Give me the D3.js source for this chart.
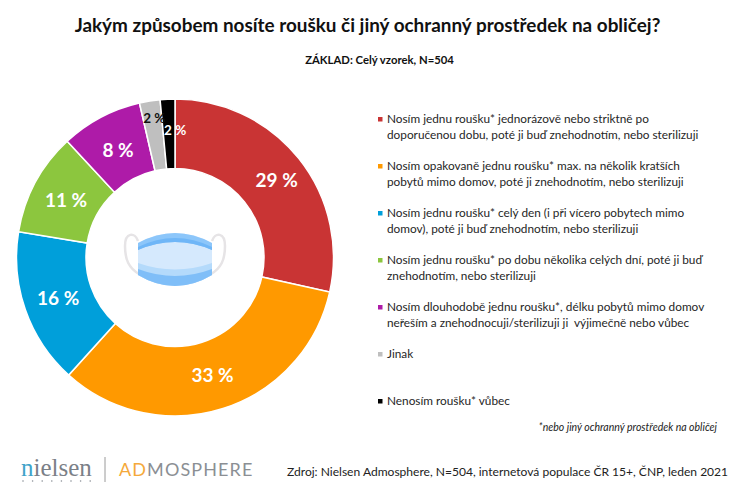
<!DOCTYPE html>
<html>
<head>
<meta charset="utf-8">
<script src="https://d3js.org/d3.v7.min.js"></script>
<style>
html, body { margin: 0; padding: 0; background: #fff; }
text { font-family: Lato, "Open Sans", sans-serif; }
</style>
</head>
<body>
<div id="chart"></div>
<script>
var categories = [
    ["Nosím jednu roušku* jednorázově nebo striktně po", "doporučenou dobu, poté ji buď znehodnotím, nebo sterilizuji"],
    ["Nosím opakovaně jednu roušku* max. na několik kratších", "pobytů mimo domov, poté ji znehodnotím, nebo sterilizuji"],
    ["Nosím jednu roušku* celý den (i při vícero pobytech mimo", "domov), poté ji buď znehodnotím, nebo sterilizuji"],
    ["Nosím jednu roušku* po dobu několika celých dní, poté ji buď", "znehodnotím, nebo sterilizuji"],
    ["Nosím dlouhodobě jednu roušku*, délku pobytů mimo domov", "neřeším a znehodnocuji/sterilizuji ji  výjimečně nebo vůbec"],
    ["Jinak"],
    ["Nenosím roušku* vůbec"]
];
// slice sizes as measured on the ring, the labels show them rounded
var values = [28.5, 33.2, 15.9, 10.5, 8.3, 2.1, 1.5];
var labels = ["29 %", "33 %", "16 %", "11 %", "8 %", "2 %", "2 %"];
var colors = ["#c93434", "#ff9900", "#009fda", "#8cc63e", "#ae1ba8", "#bfbfbf", "#000000"];
var labelColors = ["#fff", "#fff", "#fff", "#fff", "#fff", "#111", "#fff"];

var width = 740, height = 487;
var cx = 175, cy = 257.5, outer = 158.5, inner = 89;
// the small labels were pushed around by hand in the original
var labelNudge = [[5, 0], [0, 0], [0, 0], [0, 1], [1, 2], [-1, -17], [6, -4]];

var svg = d3.select("#chart").append("svg")
    .attr("width", width)
    .attr("height", height)
    .style("display", "block");

function drawText(x, y, str, size, weight, anchor, style, color) {
    return svg.append("text")
        .attr("x", x)
        .attr("y", y)
        .attr("text-anchor", anchor || "start")
        .attr("font-size", size)
        .attr("font-weight", weight || "normal")
        .attr("font-style", style || "normal")
        .attr("fill", color || "#222")
        .attr("xml:space", "preserve")
        .text(str);
}

drawText(367.5, 32, "Jakým způsobem nosíte roušku či jiný ochranný prostředek na obličej?", 18.9, "bold", "middle", null, "#111");
drawText(379.5, 64, "ZÁKLAD: Celý vzorek, N=504", 11.3, "bold", "middle", null, "#111");

// donut
var pie = d3.pie().sort(null);
var arc = d3.arc().innerRadius(inner).outerRadius(outer);
var arcs = pie(values);
var donut = svg.append("g").attr("transform", "translate(" + cx + "," + cy + ")");

donut.selectAll("path")
    .data(arcs)
    .enter()
    .append("path")
    .attr("d", arc)
    .attr("fill", function (d, i) { return colors[i]; })
    .attr("stroke", "#fff")
    .attr("stroke-width", 1.5);

donut.selectAll("text")
    .data(arcs)
    .enter()
    .append("text")
    .attr("transform", function (d, i) {
        var c = arc.centroid(d);
        return "translate(" + (c[0] + labelNudge[i][0]) + "," + (c[1] + labelNudge[i][1]) + ")";
    })
    .attr("dy", "0.36em")
    .attr("text-anchor", "middle")
    .attr("font-size", function (d, i) { return i > 4 ? 13.5 : 19; })
    .attr("font-weight", "bold")
    .attr("fill", function (d, i) { return labelColors[i]; })
    .text(function (d, i) { return labels[i]; });

// mask icon in the hole
var mask = svg.append("g").attr("transform", "translate(" + cx + "," + (cy + 0.5) + ")");
mask.selectAll("path.loop")
    .data([-1, 1])
    .enter()
    .append("path")
    .attr("class", "loop")
    .attr("d", function (s) {
        return "M" + s * 37 + ",-17 C" + s * 40 + ",-26 " + s * 50 + ",-26 " + s * 50 + ",-12 C" + s * 50 + ",2 " + s * 46 + ",10 " + s * 36 + ",16";
    })
    .attr("fill", "none")
    .attr("stroke", "#e6e4e6")
    .attr("stroke-width", 2.5);
mask.append("path")
    .attr("d", "M-37,-15 Q0,-35 37,-15 L37,17 Q0,39 -37,17 Z")
    .attr("fill", "#d5e9fd");
mask.append("path")
    .attr("d", "M-37,-15 Q0,-35 37,-15 L37,-8 Q0,-24 -37,-8 Z")
    .attr("fill", "#8cc6fa");
mask.append("path")
    .attr("d", "M-37,-11 Q0,-29 37,-11 L37,-8 Q0,-24 -37,-8 Z")
    .attr("fill", "#6fb6f7");
mask.append("path")
    .attr("d", "M-37,5 Q0,18 37,5 L37,17 Q0,39 -37,17 Z")
    .attr("fill", "#b4dafb");
mask.append("path")
    .attr("d", "M-37,11 Q0,25 37,11 L37,17 Q0,39 -37,17 Z")
    .attr("fill", "#7fbef8");

// legend
var legendY = d3.scalePoint()
    .domain(d3.range(categories.length))
    .range([119, 401]);

var legend = svg.selectAll("g.legend")
    .data(categories)
    .enter()
    .append("g")
    .attr("class", "legend")
    .attr("transform", function (d, i) { return "translate(378," + legendY(i) + ")"; });

legend.append("rect")
    .attr("x", 0)
    .attr("y", -2)
    .attr("width", 4.5)
    .attr("height", 4.5)
    .attr("fill", function (d, i) { return colors[i]; });

legend.selectAll("text")
    .data(function (d) { return d; })
    .enter()
    .append("text")
    .attr("x", 9)
    .attr("y", function (d, i) { return i * 16 + 4; })
    .attr("font-size", 11.8)
    .attr("fill", "#262626")
    .attr("xml:space", "preserve")
    .text(function (d) { return d; });

drawText(717, 431, "*nebo jiný ochranný prostředek na obličej", 10.5, "normal", "end", "italic", "#222");

// logos
var nielsen = drawText(21, 476, "", 25, "normal", "start", null, "#7b8087").style("font-family", "'Liberation Serif', serif");
nielsen.append("tspan").attr("fill", "#3fa3c9").text("n");
nielsen.append("tspan").text("ielsen");
svg.selectAll("circle.dot")
    .data(d3.range(8))
    .enter()
    .append("circle")
    .attr("class", "dot")
    .attr("cx", function (d) { return 23 + d * 9.6; })
    .attr("cy", 481)
    .attr("r", 0.8)
    .attr("fill", "#8a8f96");
svg.append("line")
    .attr("x1", 105).attr("x2", 105)
    .attr("y1", 457).attr("y2", 482)
    .attr("stroke", "#9a9a9a");
var logo = drawText(119, 476, "", 18, "normal", "start", null, "#8b8f94").attr("letter-spacing", 1.1);
logo.append("tspan").attr("fill", "#f5a93a").text("AD");
logo.append("tspan").text("MOSPHERE");

drawText(287, 476, "Zdroj: Nielsen Admosphere, N=504, internetová populace ČR 15+, ČNP, leden 2021", 12.05, "normal", "start", null, "#222");
</script>
</body>
</html>
